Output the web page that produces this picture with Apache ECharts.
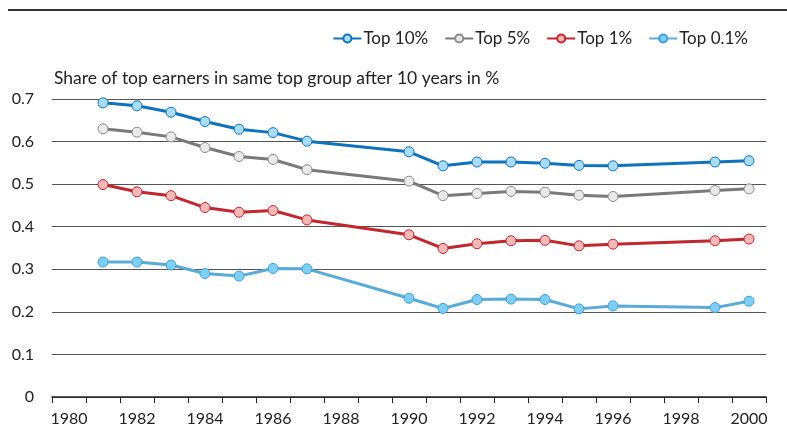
<!DOCTYPE html>
<html>
<head>
<meta charset="utf-8">
<script src="https://cdn.jsdelivr.net/npm/echarts@6/dist/echarts.min.js"></script>
<style>
  html, body { margin: 0; padding: 0; background: #fff; }
  #chart { width: 787px; height: 432px; }
</style>
</head>
<body>
<div id="chart"></div>
<script>
// years on the category axis
var years = []
for (var y = 1980; y <= 2000; y++) years.push(String(y))

// data years and values
var dataYears = ['1981', '1982', '1983', '1984', '1985', '1986', '1987', '1990', '1991', '1992', '1993', '1994', '1995', '1996', '1999', '2000']
var top10 = [0.691, 0.684, 0.669, 0.647, 0.629, 0.621, 0.601, 0.576, 0.543, 0.552, 0.552, 0.549, 0.544, 0.543, 0.552, 0.555]
var top5 = [0.630, 0.622, 0.611, 0.586, 0.565, 0.558, 0.534, 0.507, 0.473, 0.478, 0.483, 0.481, 0.474, 0.471, 0.485, 0.489]
var top1 = [0.499, 0.482, 0.473, 0.445, 0.434, 0.438, 0.416, 0.381, 0.349, 0.360, 0.367, 0.368, 0.355, 0.359, 0.367, 0.371]
var top01 = [0.317, 0.317, 0.310, 0.290, 0.284, 0.302, 0.301, 0.232, 0.208, 0.229, 0.230, 0.229, 0.207, 0.214, 0.210, 0.225]

var FONT = 'Lato'

function pairs(vals) {
  return dataYears.map(function(yr, i) { return [yr, vals[i]] })
}

function makeSeries(name, vals, lineColor, fill, border) {
  return {
    name: name,
    type: 'line',
    data: pairs(vals),
    symbol: 'circle',
    symbolSize: 10,
    connectNulls: true,
    lineStyle: { color: lineColor, width: 3 },
    itemStyle: { color: fill, borderColor: border, borderWidth: 1 },
    emphasis: { disabled: true }
  }
}

var chart = echarts.init(document.getElementById('chart'))
chart.setOption({
  animation: false,
  textStyle: { fontFamily: FONT },
  graphic: [{
    type: 'line',
    shape: { x1: 8, y1: 10, x2: 787, y2: 10 },
    style: { stroke: '#333', lineWidth: 2 }
  }],
  title: {
    text: 'Share of top earners in same top group after 10 years in %',
    left: 49,
    top: 64,
    textStyle: { fontFamily: FONT, fontSize: 17.5, fontWeight: 'normal', color: '#222' }
  },
  legend: {
    right: 34,
    top: 25,
    itemWidth: 28,
    itemHeight: 10,
    itemGap: 16,
    textStyle: { fontFamily: FONT, fontSize: 17, color: '#222', padding: [0, 0, 0, -3] },
    data: ['Top 10%', 'Top 5%', 'Top 1%', 'Top 0.1%']
  },
  grid: { left: 52, right: 21, top: 99, bottom: 35 },
  xAxis: {
    type: 'category',
    data: years,
    boundaryGap: true,
    axisLine: { lineStyle: { color: '#222', width: 1.5 } },
    axisTick: { show: true, length: 6, lineStyle: { color: '#222' }, interval: 0 },
    axisLabel: { interval: 1, color: '#222', fontSize: 16, margin: 14, fontFamily: FONT },
    splitLine: { show: false }
  },
  yAxis: {
    type: 'value',
    min: 0,
    max: 0.7,
    interval: 0.1,
    axisLine: { show: false },
    axisTick: { show: false },
    axisLabel: { color: '#222', fontSize: 16, margin: 18, fontFamily: FONT,
      formatter: function(v) { return v === 0 ? '0' : v.toFixed(1) } },
    splitLine: { lineStyle: { color: '#555', width: 1 } }
  },
  series: [
    makeSeries('Top 10%', top10, '#0f72bd', '#a9ddf7', '#0f72bd'),
    makeSeries('Top 5%', top5, '#7a7a7a', '#e9e9e9', '#8a8a8a'),
    makeSeries('Top 1%', top1, '#c1272d', '#f5b8b8', '#c1272d'),
    makeSeries('Top 0.1%', top01, '#5aaad8', '#7dcff5', '#3f9fd6')
  ]
})
</script>
</body>
</html>
